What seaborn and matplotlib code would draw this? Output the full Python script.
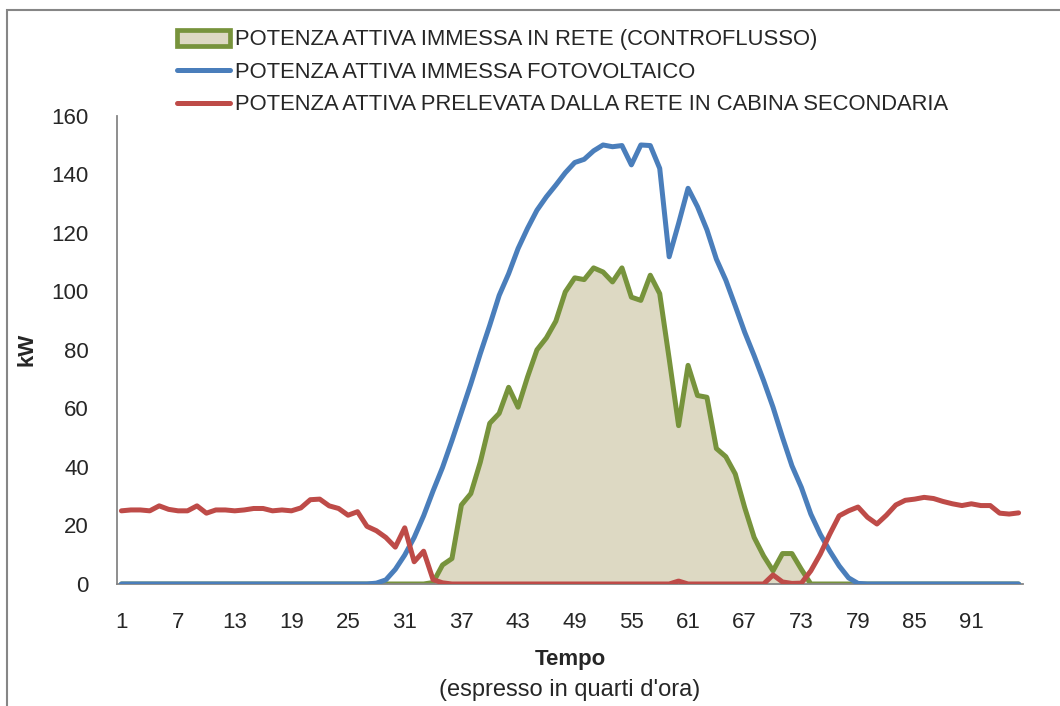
import matplotlib
matplotlib.use('Agg')
import numpy as np
import pandas as pd
import seaborn as sns
from matplotlib import pyplot as plt
from matplotlib.lines import Line2D
from matplotlib.patches import Patch, Rectangle

# quarti d'ora della giornata (1..96)
quarti = list(range(1, 97))

# potenza attiva immessa in rete (controflusso) [kW]
controflusso = [0] * 33 + [
    0.5, 6.5, 8.7, 27, 30.9, 41.6, 54.9, 58.3, 67.2, 60.4,
    70.7, 80, 84.1, 89.8, 99.8, 104.6, 104, 108, 106.6, 103.2,
    108, 98, 96.9, 105.5, 99.2, 77, 54.1, 74.7, 64.4, 63.8,
    46.3, 43.5, 37.6, 26.1, 15.9, 9.6, 4.5, 10.4, 10.4, 5,
] + [0] * 23

# potenza attiva immessa fotovoltaico [kW]
fotovoltaico = [0] * 27 + [
    0.3, 1.4, 5, 9.9, 15.9, 23.3, 31.8, 39.8, 49, 58.7,
    68.4, 78.7, 88.4, 98.6, 106, 114.6, 121.5, 127.7, 132.3, 136.3,
    140.5, 144, 145.1, 148, 150, 149.4, 149.8, 143.2, 150, 149.8,
    142, 111.8, 123.2, 135.2, 128.9, 121, 111, 103.8, 95, 86,
    78, 69.5, 60.4, 50.1, 40.4, 33, 23.9, 17, 11.3, 6.2,
    2.1, 0.2,
] + [0] * 17

# potenza attiva prelevata dalla rete in cabina secondaria [kW]
prelevata = [
    25, 25.3, 25.3, 25, 26.7, 25.5, 25, 25, 26.7, 24.2,
    25.3, 25.3, 25, 25.3, 25.8, 25.8, 25, 25.3, 25, 26,
    28.8, 29, 26.7, 25.8, 23.5, 24.7, 19.7, 18.2, 15.9, 12.6,
    19.2, 7.6, 11.2, 1.5, 0.4,
] + [0] * 24 + [1.0] + [0] * 9 + [
    3.1, 0.7, 0.2, 0.3, 4.5, 10.2, 17, 23.3, 25, 26.3,
    22.8, 20.5, 23.5, 27, 28.6, 29, 29.6, 29.2, 28.2, 27.4,
    26.8, 27.4, 26.8, 26.8, 24.2, 23.9, 24.3,
]

etichette = ["POTENZA ATTIVA IMMESSA IN RETE (CONTROFLUSSO)",
             "POTENZA ATTIVA IMMESSA FOTOVOLTAICO",
             "POTENZA ATTIVA PRELEVATA DALLA RETE IN CABINA SECONDARIA"]

df = pd.DataFrame({"Tempo": quarti, "controflusso": controflusso,
                   "fotovoltaico": fotovoltaico, "prelevata": prelevata})

VERDE = "#77933C"
BEIGE = "#DDD9C3"
BLU = "#4A7EBB"
ROSSO = "#BE4B48"
GRIGIO = "#868686"
LW = 3.6

sns.set_style("white")
plt.rcParams['font.family'] = ['Liberation Sans', 'DejaVu Sans']

fig = plt.figure(figsize=(10.6, 7.06), dpi=100)
ax = fig.add_axes([116.7 / 1060, 1 - 584 / 706, (1023.3 - 116.7) / 1060, (584 - 115.7) / 706])

ax.fill_between(df["Tempo"], df["controflusso"], 0, color=BEIGE, lw=0, zorder=1)
sns.lineplot(data=df, x="Tempo", y="controflusso", ax=ax, color=VERDE, lw=LW,
             solid_capstyle='round', solid_joinstyle='round', zorder=2)
sns.lineplot(data=df, x="Tempo", y="fotovoltaico", ax=ax, color=BLU, lw=LW,
             solid_capstyle='round', solid_joinstyle='round', zorder=3)
sns.lineplot(data=df, x="Tempo", y="prelevata", ax=ax, color=ROSSO, lw=LW,
             solid_capstyle='round', solid_joinstyle='round', zorder=4)

ax.set_xlim(0.5, 96.5)
ax.set_ylim(0, 160)
ax.set_yticks(np.arange(0, 161, 20))
ax.set_xticks(quarti[::6])
ax.set_xticks(np.arange(0.5, 97, 6).tolist() + [96.5], minor=True)
ax.tick_params(axis='x', which='major', length=0, pad=20, labelsize=16)
ax.tick_params(axis='x', which='minor', length=7, width=1.3, color=GRIGIO, direction='out')
ax.tick_params(axis='y', length=7, width=1.3, color=GRIGIO, direction='out', pad=13, labelsize=16)
ax.set_xlabel("")
ax.set_ylabel("")
for side in ["top", "right"]:
    ax.spines[side].set_visible(False)
for side in ["left", "bottom"]:
    ax.spines[side].set_color(GRIGIO)
    ax.spines[side].set_linewidth(1.3)

fig.text(27.5 / 1060, 1 - 349.5 / 706, "kW", rotation=90, fontsize=16,
         fontweight='bold', ha='center', va='center')
fig.text(570 / 1060, 1 - 659 / 706, "Tempo", fontsize=16, fontweight='bold',
         ha='center', va='center')
fig.text(570 / 1060, 1 - 690 / 706, "(espresso in quarti d'ora)", fontsize=17,
         ha='center', va='center')

handles = [Patch(facecolor=BEIGE, edgecolor=VERDE, linewidth=3.4),
           Line2D([], [], color=BLU, lw=LW, solid_capstyle='round'),
           Line2D([], [], color=ROSSO, lw=LW, solid_capstyle='round')]
fig.legend(handles, etichette, loc='upper left', bbox_to_anchor=(177 / 1060, 1 - 29.5 / 706),
           frameon=False, fontsize=15.8, borderpad=0, borderaxespad=0,
           handlelength=2.4, handletextpad=0.25, labelspacing=0.52)

fig.patches.append(Rectangle((6.7 / 1060, -0.1), 1.2, (706 - 10) / 706 + 0.1,
                             transform=fig.transFigure, fill=False,
                             edgecolor=GRIGIO, lw=1.5))

fig.savefig("out.png", dpi=100)
